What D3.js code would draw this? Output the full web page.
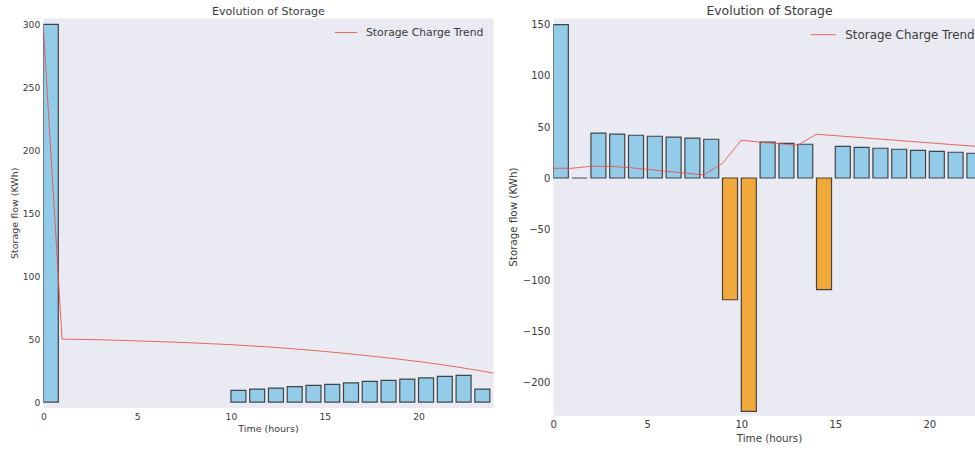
<!DOCTYPE html>
<html>
<head>
<meta charset="utf-8">
<script src="https://cdn.jsdelivr.net/npm/d3@7"></script>
<style>
  body { margin: 0; background: #fff; }
  svg { display: block; font-family: "DejaVu Sans", sans-serif; }
</style>
</head>
<body>
<svg id="chart" width="975" height="452"></svg>
<script>
// Hours for the bars
const hours = [0, 1, 2, 3, 4, 5, 6, 7, 8, 9, 10, 11, 12, 13, 14, 15, 16, 17, 18, 19, 20, 21, 22, 23];
// Hours for the trend lines
const lineHoursLeft = [0, 1, 2, 3, 4, 5, 6, 7, 8, 9, 10, 11, 12, 13, 14, 15, 16, 17, 18, 19, 20, 21, 22, 23, 24];
const lineHoursRight = [0, 1, 2, 3, 4, 5, 6, 7, 8, 9, 10, 11, 12, 13, 14, 15, 16, 17, 18, 19, 20, 21, 22, 23];

// Left chart: storage flow per hour (null = no bar)
const leftFlow = [300, null, null, null, null, null, null, null, null, null,
  9.3, 10.3, 11.1, 12.2, 13.2, 14.0, 15.3, 16.4, 17.2, 18.3, 19.3, 20.4, 21.2, 10.3];
// Left chart: storage charge trend
const leftCharge = [298, 50, 49.8, 49.5, 49.1, 48.6, 48.1, 47.6, 47.0, 46.3, 45.6, 44.7,
  43.8, 42.7, 41.5, 40.2, 38.8, 37.3, 35.7, 34.0, 32.2, 30.2, 28.0, 25.6, 23.0];

// Right chart: storage flow per hour
const rightFlow = [150, 0, 43.8, 42.8, 41.8, 40.8, 39.9, 38.9, 37.9, -119, -228, 35, 33.8, 33,
  -109, 31, 30, 29.1, 28.1, 27.1, 26.1, 25.2, 24.2, 23.2];
// Right chart: storage charge trend
const rightCharge = [9.5, 9.5, 11.5, 11.4, 10.2, 8.5, 6.5, 4.9, 2.9, 14.4, 37, 35, 33.6, 32,
  42.8, 41.4, 40, 38.6, 37.2, 35.8, 34.4, 33, 31.6, 30.2];

const leftYTicks = [0, 50, 100, 150, 200, 250, 300];
const rightYTicks = [-200, -150, -100, -50, 0, 50, 100, 150];
const xTicks = [0, 5, 10, 15, 20];

const TITLE = "Evolution of Storage";
const X_LABEL = "Time (hours)";
const Y_LABEL = "Storage flow (KWh)";
const LEGEND = "Storage Charge Trend";

const BLUE = "#92cce8";
const ORANGE = "#f2a93b";
const LINE_RED = "#ee4c44";
const TEXT = "#3a3a3a";
const PANEL = "#eaeaf2";

const svg = d3.select("#chart");

const drawPanel = (cfg) => {
  const x = d3.scaleLinear().domain(cfg.xDomain).range([cfg.left, cfg.right]);
  const y = d3.scaleLinear().domain(cfg.yDomain).range([cfg.bottom, cfg.top]);

  const g = svg.append("g");

  g.append("rect")
    .attr("x", cfg.left)
    .attr("y", cfg.top)
    .attr("width", cfg.right - cfg.left)
    .attr("height", cfg.bottom - cfg.top)
    .attr("fill", PANEL);

  const clipId = "clip-" + cfg.id;
  g.append("clipPath").attr("id", clipId)
    .append("rect")
    .attr("x", cfg.left)
    .attr("y", cfg.top)
    .attr("width", cfg.right - cfg.left)
    .attr("height", cfg.bottom - cfg.top);

  const plot = g.append("g").attr("clip-path", `url(#${clipId})`);

  // Bars, edge-aligned with width 0.8 - drawn as paths so zero bars still show an edge
  const bars = hours
    .map((h, i) => ({ h: h, v: cfg.flow[i] }))
    .filter((d) => d.v !== null);

  plot.selectAll("path.bar")
    .data(bars)
    .enter()
    .append("path")
    .attr("class", "bar")
    .attr("d", (d) => {
      const x0 = x(d.h), x1 = x(d.h + 0.8);
      const y0 = y(0), y1 = y(d.v);
      return `M${x0},${y0}H${x1}V${y1}H${x0}Z`;
    })
    .attr("fill", (d) => (d.v < 0 ? ORANGE : BLUE))
    .attr("stroke", "#2a2a2a")
    .attr("stroke-opacity", 0.85)
    .attr("stroke-width", 1.2);

  // Trend line
  const line = d3.line()
    .x((d) => x(d[0]))
    .y((d) => y(d[1]));

  plot.append("path")
    .datum(cfg.lineHours.map((h, i) => [h, cfg.charge[i]]))
    .attr("d", line)
    .attr("fill", "none")
    .attr("stroke", LINE_RED)
    .attr("stroke-opacity", 0.85)
    .attr("stroke-width", 1);

  // Axes without tick marks or domain line
  const xAxis = g.append("g")
    .attr("transform", `translate(0,${cfg.bottom})`)
    .call(d3.axisBottom(x).tickValues(xTicks).tickSize(0).tickPadding(cfg.xPad));
  const yAxis = g.append("g")
    .attr("transform", `translate(${cfg.left},0)`)
    .call(d3.axisLeft(y).tickValues(cfg.yTicks).tickSize(0).tickPadding(cfg.yPad)
      .tickFormat((d) => (d < 0 ? "\u2212" + Math.abs(d) : d)));

  [xAxis, yAxis].forEach((a) => {
    a.select(".domain").remove();
    a.selectAll("text")
      .attr("fill", TEXT)
      .style("font-family", "DejaVu Sans")
      .style("font-size", cfg.tickSize + "px");
  });

  const cx = (cfg.left + cfg.right) / 2;

  g.append("text")
    .attr("x", cx)
    .attr("y", cfg.titleY)
    .attr("text-anchor", "middle")
    .attr("fill", TEXT)
    .style("font-size", cfg.titleSize + "px")
    .text(TITLE);

  g.append("text")
    .attr("x", cx)
    .attr("y", cfg.xLabelY)
    .attr("text-anchor", "middle")
    .attr("fill", TEXT)
    .style("font-size", cfg.labelSize + "px")
    .text(X_LABEL);

  g.append("text")
    .attr("transform", `translate(${cfg.yLabelX},${(cfg.top + cfg.bottom) / 2}) rotate(-90)`)
    .attr("text-anchor", "middle")
    .attr("dominant-baseline", "central")
    .attr("fill", TEXT)
    .style("font-size", cfg.labelSize + "px")
    .text(Y_LABEL);

  // Legend (no frame)
  g.append("line")
    .attr("x1", cfg.legendX)
    .attr("x2", cfg.legendX + cfg.legendLine)
    .attr("y1", cfg.legendY)
    .attr("y2", cfg.legendY)
    .attr("stroke", LINE_RED)
    .attr("stroke-opacity", 0.85)
    .attr("stroke-width", 1);
  g.append("text")
    .attr("x", cfg.legendTextX)
    .attr("y", cfg.legendY)
    .attr("dominant-baseline", "central")
    .attr("fill", TEXT)
    .style("font-size", cfg.legendSize + "px")
    .text(LEGEND);
};

drawPanel({
  id: "left",
  flow: leftFlow,
  charge: leftCharge,
  lineHours: lineHoursLeft,
  xDomain: [0, 24],
  yDomain: [-4.7, 304.7],
  yTicks: leftYTicks,
  left: 43.3,
  right: 493.6,
  top: 18.5,
  bottom: 408,
  xPad: 5,
  yPad: 3,
  tickSize: 9.2,
  titleSize: 11.1,
  labelSize: 9.5,
  legendSize: 10.8,
  titleY: 14.5,
  xLabelY: 431.5,
  yLabelX: 14,
  legendX: 335,
  legendLine: 22.3,
  legendTextX: 366,
  legendY: 32.5
});

drawPanel({
  id: "right",
  flow: rightFlow,
  charge: rightCharge,
  lineHours: lineHoursRight,
  xDomain: [0, 23],
  yDomain: [-232.3, 155.9],
  yTicks: rightYTicks,
  left: 553.3,
  right: 985.7,
  top: 18.5,
  bottom: 415.7,
  xPad: 5,
  yPad: 3,
  tickSize: 10,
  titleSize: 12.4,
  labelSize: 10.3,
  legendSize: 11.9,
  titleY: 14.8,
  xLabelY: 442,
  yLabelX: 513,
  legendX: 811,
  legendLine: 24.7,
  legendTextX: 845.3,
  legendY: 34.7
});
</script>
</body>
</html>
